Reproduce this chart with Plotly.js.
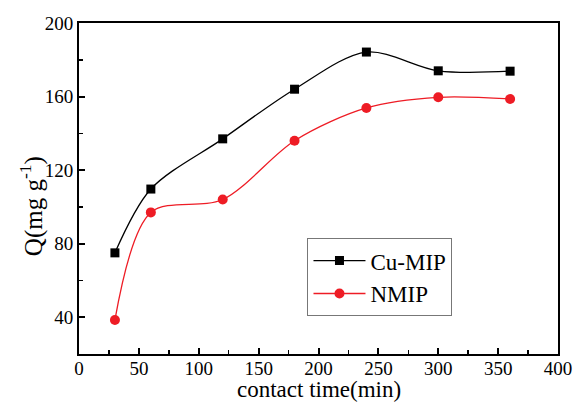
<!DOCTYPE html>
<html><head><meta charset="utf-8">
<script src="https://cdn.plot.ly/plotly-3.0.1.min.js"></script>
<style>html,body{margin:0;padding:0;background:#fff}</style>
</head><body><div id="chart" style="width:574px;height:403px"></div>
<script>
var time = [30, 60, 120, 180, 240, 300, 360];
var cuMIP = [75, 109.7, 137, 164, 184.2, 174, 173.8];
var nMIP = [38.5, 97, 104, 136, 153.8, 159.6, 158.7];
var seriesNames = ['Cu-MIP', 'NMIP'];
var xTitle = 'contact time(min)';
var yTitle = 'Q(mg g<sup>-1</sup>)';

var font = 'Liberation Serif, Times New Roman, serif';
var traces = [
  {x: time, y: cuMIP, name: seriesNames[0], mode: 'lines+markers',
   line: {color: '#000000', width: 1.3, shape: 'spline', smoothing: 0.9},
   marker: {symbol: 'square', size: 9, color: '#000000'}},
  {x: time, y: nMIP, name: seriesNames[1], mode: 'lines+markers',
   line: {color: '#ee1c25', width: 1.3, shape: 'spline', smoothing: 0.9},
   marker: {symbol: 'circle', size: 10, color: '#ee1c25'}}
];
var axisCommon = {
  showgrid: false, zeroline: false, showline: true, linecolor: '#000', linewidth: 2,
  mirror: true, ticks: 'inside', ticklen: 6, tickwidth: 2, tickcolor: '#000',
  tickfont: {family: font, size: 19, color: '#000'},
  minor: {ticks: 'inside', ticklen: 4, tickwidth: 1.5, tickcolor: '#000'}
};
var layout = {
  width: 574, height: 403,
  margin: {l: 79, r: 16, t: 23, b: 49},
  paper_bgcolor: '#fff', plot_bgcolor: '#fff',
  showlegend: true,
  legend: {x: 0.477, y: 0.35, xanchor: 'left', yanchor: 'top',
    bordercolor: '#777', borderwidth: 1, bgcolor: '#fff',
    font: {family: font, size: 23, color: '#000'}, itemwidth: 52, tracegroupgap: 0},
  xaxis: Object.assign({}, axisCommon, {range: [0, 400], dtick: 50, ticklabelstandoff: -4,
    minor: Object.assign({}, axisCommon.minor, {dtick: 25})}),
  yaxis: Object.assign({}, axisCommon, {range: [20, 200], tickvals: [40, 80, 120, 160, 200],
    minor: Object.assign({}, axisCommon.minor, {tickvals: [60, 100, 140, 180]})}),
  annotations: [
    {text: xTitle, xref: 'paper', yref: 'paper', x: 0.5, y: -0.148,
     xanchor: 'center', yanchor: 'bottom', showarrow: false, borderpad: 0,
     font: {family: font, size: 23, color: '#000'}},
    {text: yTitle, xref: 'paper', yref: 'paper', x: -0.1, y: 0.447, textangle: -90,
     xanchor: 'center', yanchor: 'middle', showarrow: false,
     font: {family: font, size: 25, color: '#000'}}
  ]
};
Plotly.newPlot('chart', traces, layout, {displayModeBar: false, staticPlot: true});
</script></body></html>
